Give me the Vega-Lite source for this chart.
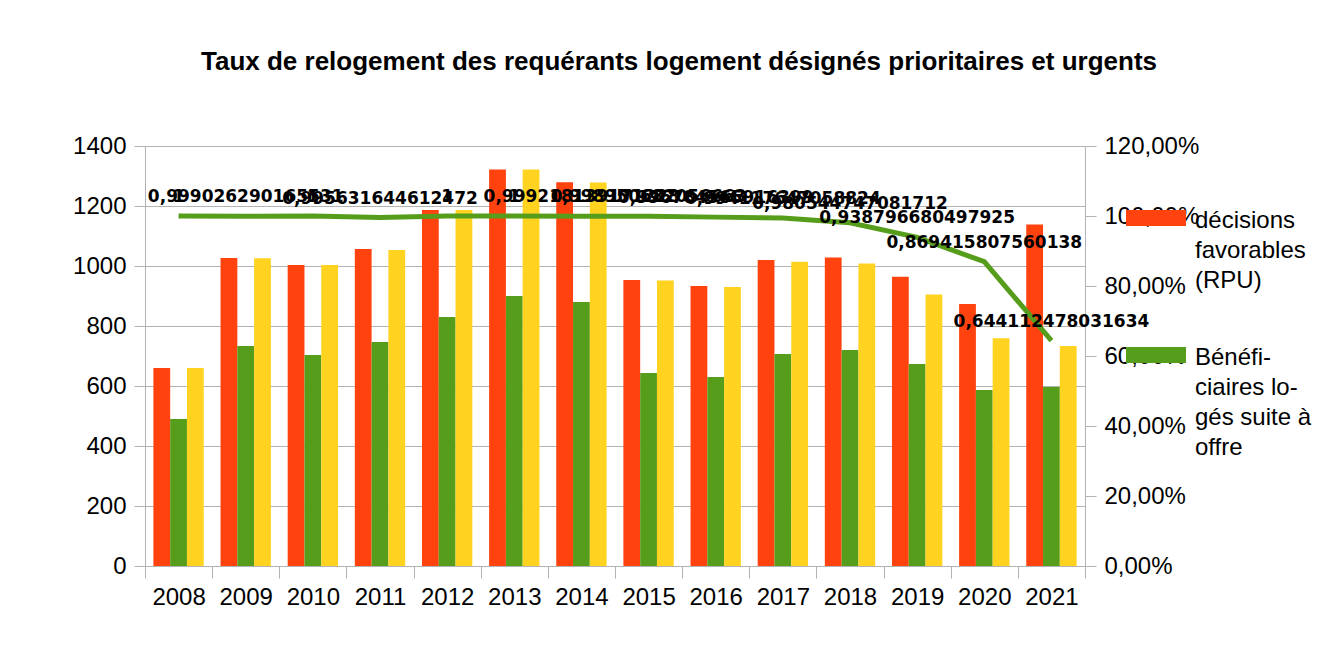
{
  "$schema": "https://vega.github.io/schema/vega-lite/v6.json",
  "width": 940,
  "height": 420,
  "autosize": {"type": "none"},
  "padding": {"left": 145, "top": 146, "right": 253, "bottom": 87},
  "background": "white",
  "config": {
    "locale": {"number": {"decimal": ",", "thousands": " ", "grouping": [3], "currency": ["", " €"]}},
    "view": {"stroke": null},
    "style": {"guide-label": {"lineHeight": 30}}
  },
  "title": {
    "text": "Taux de relogement des requérants logement désignés prioritaires et urgents",
    "font": "Liberation Sans",
    "fontSize": 26,
    "fontWeight": "bold",
    "color": "black",
    "anchor": "middle",
    "offset": 59,
    "dx": 64
  },
  "datasets": {
    "bars": [
      {"year": "2008", "serie": "décisions favorables (RPU)", "value": 660},
      {"year": "2008", "serie": "Bénéficiaires logés suite à offre", "value": 490},
      {"year": "2008", "serie": "Offres", "value": 660},
      {"year": "2009", "serie": "décisions favorables (RPU)", "value": 1027},
      {"year": "2009", "serie": "Bénéficiaires logés suite à offre", "value": 733},
      {"year": "2009", "serie": "Offres", "value": 1026},
      {"year": "2010", "serie": "décisions favorables (RPU)", "value": 1003},
      {"year": "2010", "serie": "Bénéficiaires logés suite à offre", "value": 703},
      {"year": "2010", "serie": "Offres", "value": 1003},
      {"year": "2011", "serie": "décisions favorables (RPU)", "value": 1057},
      {"year": "2011", "serie": "Bénéficiaires logés suite à offre", "value": 747},
      {"year": "2011", "serie": "Offres", "value": 1053},
      {"year": "2012", "serie": "décisions favorables (RPU)", "value": 1187},
      {"year": "2012", "serie": "Bénéficiaires logés suite à offre", "value": 830},
      {"year": "2012", "serie": "Offres", "value": 1187},
      {"year": "2013", "serie": "décisions favorables (RPU)", "value": 1322},
      {"year": "2013", "serie": "Bénéficiaires logés suite à offre", "value": 900},
      {"year": "2013", "serie": "Offres", "value": 1322},
      {"year": "2014", "serie": "décisions favorables (RPU)", "value": 1279},
      {"year": "2014", "serie": "Bénéficiaires logés suite à offre", "value": 880},
      {"year": "2014", "serie": "Offres", "value": 1278},
      {"year": "2015", "serie": "décisions favorables (RPU)", "value": 953},
      {"year": "2015", "serie": "Bénéficiaires logés suite à offre", "value": 643},
      {"year": "2015", "serie": "Offres", "value": 952},
      {"year": "2016", "serie": "décisions favorables (RPU)", "value": 933},
      {"year": "2016", "serie": "Bénéficiaires logés suite à offre", "value": 630},
      {"year": "2016", "serie": "Offres", "value": 930},
      {"year": "2017", "serie": "décisions favorables (RPU)", "value": 1020},
      {"year": "2017", "serie": "Bénéficiaires logés suite à offre", "value": 707},
      {"year": "2017", "serie": "Offres", "value": 1014},
      {"year": "2018", "serie": "décisions favorables (RPU)", "value": 1028},
      {"year": "2018", "serie": "Bénéficiaires logés suite à offre", "value": 720},
      {"year": "2018", "serie": "Offres", "value": 1008},
      {"year": "2019", "serie": "décisions favorables (RPU)", "value": 964},
      {"year": "2019", "serie": "Bénéficiaires logés suite à offre", "value": 673},
      {"year": "2019", "serie": "Offres", "value": 905},
      {"year": "2020", "serie": "décisions favorables (RPU)", "value": 873},
      {"year": "2020", "serie": "Bénéficiaires logés suite à offre", "value": 587},
      {"year": "2020", "serie": "Offres", "value": 759},
      {"year": "2021", "serie": "décisions favorables (RPU)", "value": 1138},
      {"year": "2021", "serie": "Bénéficiaires logés suite à offre", "value": 597},
      {"year": "2021", "serie": "Offres", "value": 733}
    ],
    "rate": [
      {"year": "2008", "rate": 1},
      {"year": "2009", "rate": 0.999026290165531},
      {"year": "2010", "rate": 1},
      {"year": "2011", "rate": 0.995631644612472},
      {"year": "2012", "rate": 1},
      {"year": "2013", "rate": 1},
      {"year": "2014", "rate": 0.999218139171228},
      {"year": "2015", "rate": 0.998950682056663},
      {"year": "2016", "rate": 0.996784565916399},
      {"year": "2017", "rate": 0.994117647058824},
      {"year": "2018", "rate": 0.980544747081712},
      {"year": "2019", "rate": 0.938796680497925},
      {"year": "2020", "rate": 0.869415807560138},
      {"year": "2021", "rate": 0.644112478031634}
    ]
  },
  "layer": [
    {
      "data": {"name": "bars"},
      "mark": {"type": "bar"},
      "encoding": {
        "x": {
          "field": "year",
          "type": "nominal",
          "scale": {"paddingInner": 0, "paddingOuter": 0},
          "axis": {
            "title": null,
            "labelAngle": 0,
            "labelFont": "Liberation Sans",
            "labelFontSize": 24,
            "labelColor": "black",
            "labelPadding": 7,
            "tickBand": "extent",
            "ticks": true,
            "tickSize": 12,
            "tickWidth": 1,
            "tickColor": "#b3b3b3",
            "domain": true,
            "domainColor": "#b3b3b3",
            "domainWidth": 1,
            "grid": false
          }
        },
        "xOffset": {
          "field": "serie",
          "sort": ["décisions favorables (RPU)", "Bénéficiaires logés suite à offre", "Offres"],
          "scale": {"paddingInner": 0, "paddingOuter": 0.5}
        },
        "y": {
          "field": "value",
          "type": "quantitative",
          "scale": {"domain": [0, 1400]},
          "axis": {
            "title": null,
            "values": [0, 200, 400, 600, 800, 1000, 1200, 1400],
            "format": "d",
            "labelFont": "Liberation Sans",
            "labelFontSize": 24,
            "labelColor": "black",
            "labelPadding": 8,
            "tickSize": 11,
            "tickColor": "#b3b3b3",
            "domainColor": "#b3b3b3",
            "gridColor": "#b3b3b3",
            "grid": true
          }
        },
        "color": {
          "field": "serie",
          "type": "nominal",
          "scale": {
            "domain": ["décisions favorables (RPU)", "Bénéficiaires logés suite à offre", "Offres"],
            "range": ["#ff420e", "#579d1c", "#ffd320"]
          },
          "legend": {
            "orient": "none",
            "legendX": 981,
            "legendY": 33,
            "values": ["décisions favorables (RPU)", "Bénéficiaires logés suite à offre"],
            "title": null,
            "symbolType": "M-1,0.0333H1V0.5667H-1Z",
            "symbolSize": 3600,
            "symbolStrokeWidth": 0,
            "labelFont": "Liberation Sans",
            "labelFontSize": 24,
            "labelColor": "black",
            "labelBaseline": "top",
            "labelOffset": 9,
            "labelLimit": 0,
            "rowPadding": 23,
            "padding": 0,
            "labelExpr": "datum.label == 'décisions favorables (RPU)' ? ['décisions', 'favorables', '(RPU)'] : ['Bénéfi-', 'ciaires lo-', 'gés suite à', 'offre']"
          }
        }
      }
    },
    {
      "data": {"name": "rate"},
      "encoding": {
        "x": {"field": "year", "type": "nominal"},
        "y": {
          "field": "rate",
          "type": "quantitative",
          "scale": {"domain": [0, 1.2]},
          "axis": {
            "orient": "right",
            "title": null,
            "values": [0, 0.2, 0.4, 0.6, 0.8, 1, 1.2],
            "format": ".2%",
            "labelFont": "Liberation Sans",
            "labelFontSize": 24,
            "labelColor": "black",
            "labelPadding": 8,
            "tickSize": 11,
            "tickColor": "#b3b3b3",
            "domainColor": "#b3b3b3",
            "grid": false
          }
        }
      },
      "layer": [
        {"mark": {"type": "line", "color": "#579d1c", "strokeWidth": 5}},
        {
          "mark": {
            "type": "text",
            "font": "DejaVu Sans",
            "fontWeight": "bold",
            "fontSize": 17,
            "color": "black",
            "dy": -19,
            "baseline": "middle",
            "align": "center"
          },
          "encoding": {"text": {"field": "rate", "type": "quantitative", "format": ".15~r"}}
        }
      ]
    }
  ],
  "resolve": {"scale": {"y": "independent"}}
}
